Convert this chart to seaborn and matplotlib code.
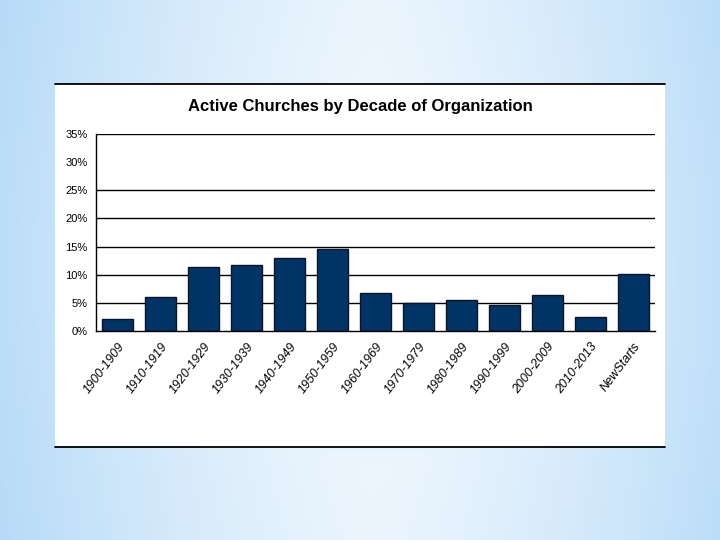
import numpy as np
import pandas as pd
import matplotlib
matplotlib.use("Agg")
import matplotlib.pyplot as plt
from matplotlib.patches import Rectangle
from matplotlib.lines import Line2D
from matplotlib.ticker import FixedLocator, PercentFormatter
import seaborn as sns

# data (share of active churches)
decades = ['1900-1909', '1910-1919', '1920-1929', '1930-1939', '1940-1949',
           '1950-1959', '1960-1969', '1970-1979', '1980-1989', '1990-1999',
           '2000-2009', '2010-2013', 'NewStarts']
share = [2.1, 6.0, 11.4, 11.7, 13.0, 14.6, 6.8, 5.0, 5.5, 4.6, 6.4, 2.5, 10.1]
y_ticks = [0, 5, 10, 15, 20, 25, 30, 35]
grid_at = [5, 10, 15, 20, 25, 35]   # the 30% line is not drawn in the original

df = pd.DataFrame({'decade': decades, 'share': share})

sns.set_style("white")
plt.rcParams['font.family'] = ['Liberation Sans Narrow', 'Liberation Sans', 'DejaVu Sans']
plt.rcParams['text.color'] = 'black'
plt.rcParams['xtick.color'] = 'black'
plt.rcParams['ytick.color'] = 'black'

fig = plt.figure(figsize=(7.2, 5.4), dpi=100)

# slide background: soft blue gradient
bg = fig.add_axes([0, 0, 1, 1], zorder=0)
h, w = 270, 360
yy, xx = np.mgrid[0:h, 0:w]
xs = xx / (w - 1)
ys = yy / (h - 1)
t = np.clip(np.abs(xs - 0.52) * 1.7, 0, 1) ** 1.4
t = np.maximum(t, 0.55 * np.exp(-((ys - 0.75) / 0.06) ** 2) * (1 - np.abs(xs - 0.5)))
t = np.clip(t + 0.15 * (1 - np.exp(-((ys - 0.5) / 0.5) ** 2)), 0, 1)
light = np.array([0.94, 0.97, 0.995])
blue = np.array([0.70, 0.85, 0.97])
img = light[None, None, :] * (1 - t[..., None]) + blue[None, None, :] * t[..., None]
bg.imshow(img, aspect='auto', extent=[0, 1, 0, 1], origin='upper')
bg.set_axis_off()

# white chart box with black top and bottom rules
x0, x1 = 55 / 720, 665 / 720
y0, y1 = 1 - 447 / 540, 1 - 84 / 540
fig.patches.append(Rectangle((x0, y0), x1 - x0, y1 - y0, transform=fig.transFigure,
                             facecolor='white', edgecolor='none', zorder=1))
for yv in (y0, y1):
    fig.lines.append(Line2D([x0, x1], [yv, yv], transform=fig.transFigure,
                            color='black', lw=1.3, zorder=2))

ax = fig.add_axes([96 / 720, 1 - 331 / 540, (655 - 96) / 720, (331 - 134) / 540], zorder=3)
ax.set_facecolor('none')
sns.barplot(data=df, x='decade', y='share', color='#003366', width=0.72,
            edgecolor='#0b1526', linewidth=1, saturation=1, ax=ax)

ax.set_xlim(-0.5, len(decades) - 0.5)
ax.set_ylim(0, 35)
ax.yaxis.set_major_locator(FixedLocator(y_ticks))
ax.yaxis.set_major_formatter(PercentFormatter(decimals=0))
for g in grid_at:
    ax.axhline(g, color='black', lw=1, zorder=0)

for side in ('top', 'right'):
    ax.spines[side].set_visible(False)
for side in ('left', 'bottom'):
    ax.spines[side].set_color('black')
    ax.spines[side].set_linewidth(1)

ax.set_xlabel('')
ax.set_ylabel('')
ax.tick_params(axis='y', which='major', direction='out', length=4, width=1,
               color='black', labelsize=8, pad=2)
ax.tick_params(axis='x', which='major', length=0, labelsize=9, pad=7)
ax.xaxis.set_minor_locator(FixedLocator(np.arange(-0.5, len(decades), 1.0)))
ax.tick_params(axis='x', which='minor', direction='out', length=4, width=1, color='black')
ax.set_xticks(range(len(decades)))
ax.set_xticklabels(decades, rotation=53, ha='right', va='top', rotation_mode='anchor')
for lab in ax.get_xticklabels():
    lab.set_fontstyle('italic')

fig.text(0.5, 1 - 106 / 540, 'Active Churches by Decade of Organization',
         ha='center', va='center', fontsize=12, fontweight='bold', zorder=4)

fig.savefig('out.png', dpi=100)
